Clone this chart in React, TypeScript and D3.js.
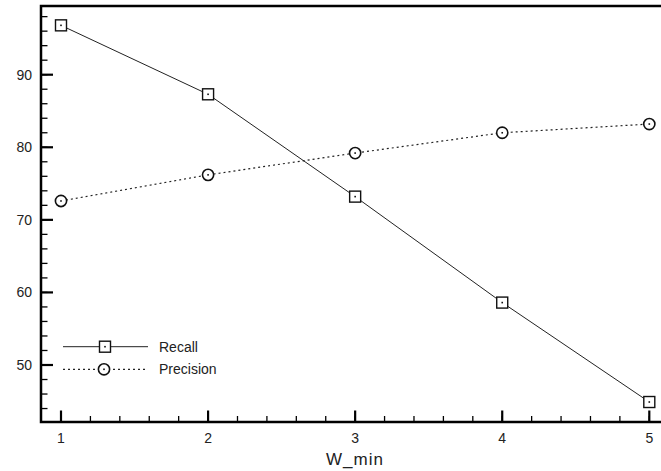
import React from "react";
import * as d3 from "d3";

const wMin = [1, 2, 3, 4, 5];
const recall = [96.8, 87.3, 73.2, 58.6, 44.9];
const precision = [72.6, 76.2, 79.2, 82.0, 83.2];
const yTicks = [50, 60, 70, 80, 90];
const xTicks = [1, 2, 3, 4, 5];
const seriesNames = ["Recall", "Precision"];

export default function App() {
  const W = 661, H = 471;
  const left = 41, top = 6, bottom = 422, right = 664;
  const x = d3.scaleLinear().domain([1, 5]).range([61, 649.3]);
  const y = d3.scaleLinear().domain([50, 90]).range([365, 74.7]);
  const line = d3.line<number>().x((_, i) => x(wMin[i])).y((d) => y(d));
  const xMinor: number[] = [];
  for (let v = 1; v <= 5.0001; v += 0.2) xMinor.push(+v.toFixed(1));
  const yMinor: number[] = [];
  for (let v = 44; v <= 98; v += 2) yMinor.push(v);
  const font = "Liberation Sans, Arial, sans-serif";
  const square = (cx: number, cy: number, k: string) => (
    <g key={k}>
      <rect x={cx - 5.5} y={cy - 5.5} width={11} height={11} fill="white" stroke="#111" strokeWidth={1.4} />
      <rect x={cx - 0.8} y={cy - 0.8} width={1.6} height={1.6} fill="#111" />
    </g>
  );
  const circle = (cx: number, cy: number, k: string) => (
    <g key={k}>
      <circle cx={cx} cy={cy} r={5.6} fill="white" stroke="#111" strokeWidth={1.6} />
      <rect x={cx - 0.8} y={cy - 0.8} width={1.6} height={1.6} fill="#111" />
    </g>
  );
  return (
    <svg width={W} height={H} style={{ position: "absolute", left: 0, top: 0, background: "white" }}>
      <rect x={0} y={0} width={W} height={H} fill="white" />
      <rect x={left} y={top} width={right - left} height={bottom - top} fill="none" stroke="#000" strokeWidth={2.5} />
      {yMinor.map((v) => (
        <line key={"ym" + v} x1={left} x2={left + 6.5} y1={y(v)} y2={y(v)} stroke="#000" strokeWidth={1.3} />
      ))}
      {yTicks.map((v) => (
        <g key={"y" + v}>
          <line x1={left} x2={left + 12} y1={y(v)} y2={y(v)} stroke="#000" strokeWidth={2.2} />
          <text x={32} y={y(v)} dy="0.36em" textAnchor="end" fontFamily={font} fontSize={14} fill="#222">{v}</text>
        </g>
      ))}
      {xMinor.map((v) => (
        <line key={"xm" + v} x1={x(v)} x2={x(v)} y1={bottom} y2={bottom - 6} stroke="#000" strokeWidth={1.3} />
      ))}
      {xTicks.map((v) => (
        <g key={"x" + v}>
          <line x1={x(v)} x2={x(v)} y1={bottom} y2={bottom - 11.5} stroke="#000" strokeWidth={2.2} />
          <text x={x(v)} y={437.5} dy="0.36em" textAnchor="middle" fontFamily={font} fontSize={14} fill="#222">{v}</text>
        </g>
      ))}
      <text x={355} y={465} textAnchor="middle" fontFamily={font} fontSize={17} letterSpacing={1} fill="#222">W_min</text>
      <path d={line(recall) || ""} fill="none" stroke="#222" strokeWidth={1} />
      <path d={line(precision) || ""} fill="none" stroke="#222" strokeWidth={1.2} strokeDasharray="2,3" />
      {recall.map((v, i) => square(x(wMin[i]), y(v), "r" + i))}
      {precision.map((v, i) => circle(x(wMin[i]), y(v), "p" + i))}
      <line x1={63} x2={148} y1={346.7} y2={346.7} stroke="#222" strokeWidth={1} />
      {square(105, 346.7, "lr")}
      <text x={159} y={346.7} dy="0.36em" fontFamily={font} fontSize={14} fill="#222">{seriesNames[0]}</text>
      <line x1={63} x2={148} y1={369.3} y2={369.3} stroke="#222" strokeWidth={1.2} strokeDasharray="2,3" />
      {circle(104, 369.3, "lp")}
      <text x={159} y={369.3} dy="0.36em" fontFamily={font} fontSize={14} fill="#222">{seriesNames[1]}</text>
    </svg>
  );
}
